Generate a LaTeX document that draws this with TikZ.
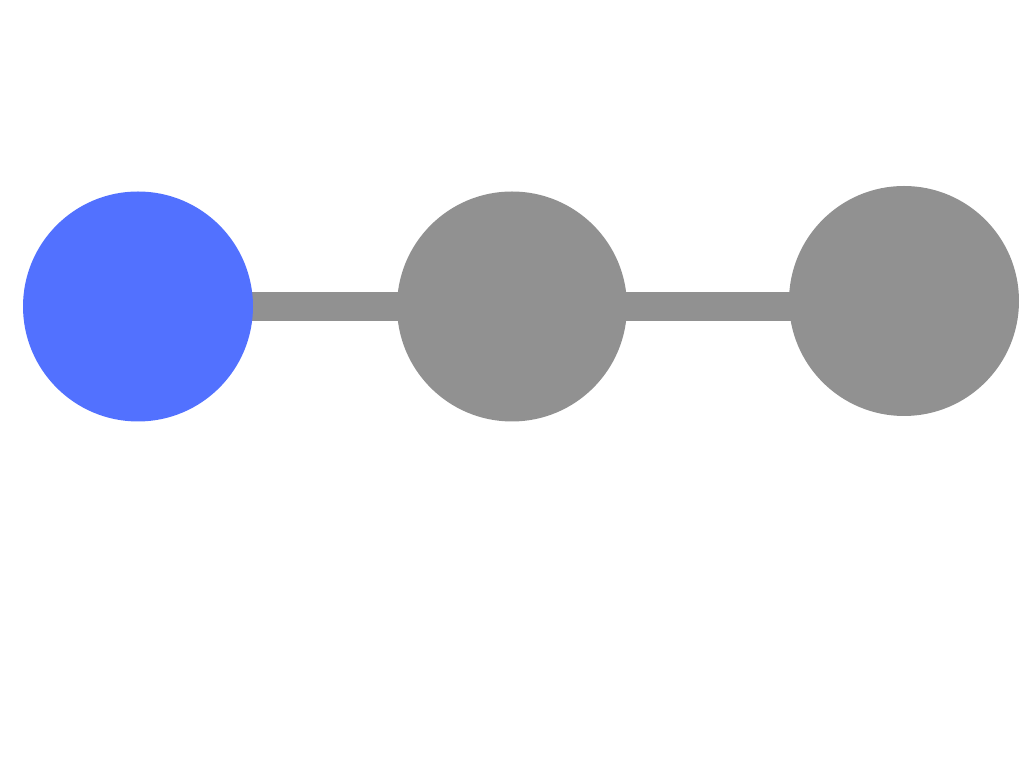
\documentclass[tikz,border=0pt]{standalone}
\usepackage{tikz}
\usetikzlibrary{backgrounds}
\definecolor{vblue}{HTML}{5271FF}
\definecolor{vgray}{HTML}{919191}
\tikzset{VertexStyle/.style = {shape=circle,fill=vgray,draw=none,minimum size=2.3cm,inner sep=0pt,outer sep=0pt},
         EdgeStyle/.style = {draw=vgray,line width=0.29cm}}

\begin{document}
\begin{tikzpicture}
		\useasboundingbox (0,0) rectangle (10.24,7.68);
		\node[VertexStyle,fill=vblue] (A) at (1.38,4.615) {};
		\node[VertexStyle] (B) at (5.12,4.615) {};
		\node[VertexStyle] (C) at (9.04,4.67) {};
		%\tikzset{EdgeStyle/.append style = {draw=darkgray}}
		\begin{scope}[on background layer]
			\draw[EdgeStyle] (A.center) -- (B.center);
			\draw[EdgeStyle] (B.center) -- (B.center -| C.center);
		\end{scope}
	\end{tikzpicture}
\end{document}
